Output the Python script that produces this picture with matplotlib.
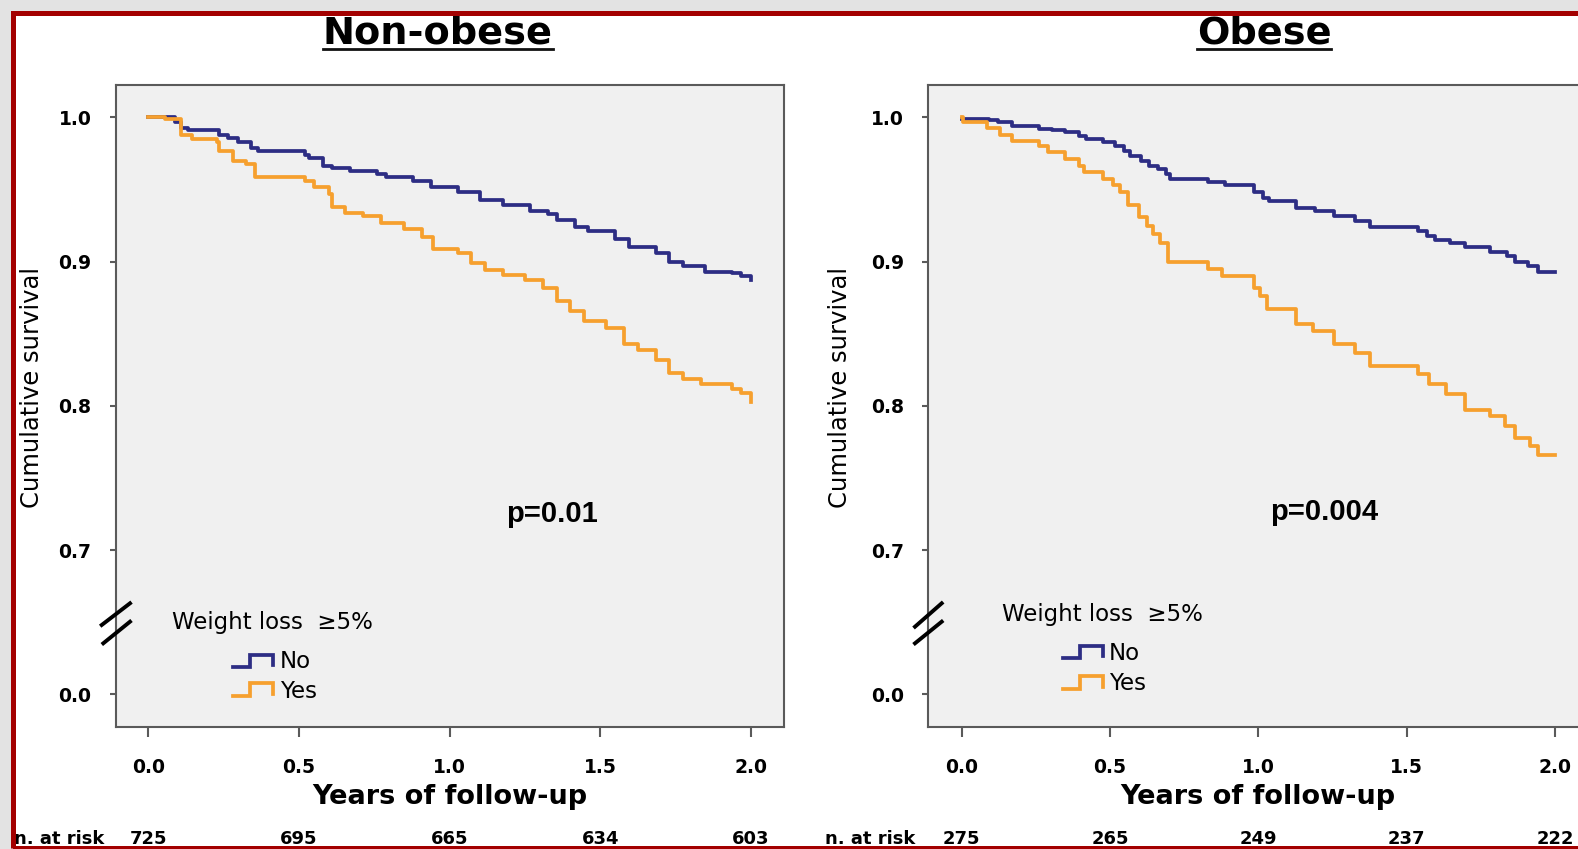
import matplotlib
matplotlib.use("Agg")
import matplotlib.pyplot as plt
from matplotlib.patches import Rectangle
from matplotlib.lines import Line2D
from matplotlib.transforms import blended_transform_factory

# Kaplan-Meier step points (years, cumulative survival)
nonobese_no_t = [0, 0.087, 0.109, 0.131, 0.236, 0.266, 0.296, 0.340, 0.363, 0.519, 0.534,
                 0.579, 0.609, 0.669, 0.758, 0.788, 0.878, 0.937, 1.027, 1.101, 1.176, 1.266,
                 1.325, 1.355, 1.415, 1.460, 1.549, 1.594, 1.684, 1.728, 1.773, 1.848, 1.937,
                 1.967, 2.0]
nonobese_no_s = [1.0, 0.997, 0.993, 0.991, 0.988, 0.986, 0.983, 0.979, 0.977, 0.974, 0.972,
                 0.966, 0.965, 0.963, 0.961, 0.959, 0.956, 0.952, 0.948, 0.943, 0.939, 0.935,
                 0.933, 0.929, 0.924, 0.921, 0.916, 0.910, 0.906, 0.900, 0.897, 0.893, 0.892,
                 0.890, 0.887]
nonobese_yes_t = [0, 0.057, 0.109, 0.146, 0.228, 0.236, 0.281, 0.325, 0.355, 0.519, 0.549,
                  0.601, 0.609, 0.654, 0.713, 0.773, 0.848, 0.907, 0.945, 1.027, 1.072, 1.116,
                  1.176, 1.251, 1.310, 1.355, 1.400, 1.445, 1.519, 1.579, 1.624, 1.684, 1.728,
                  1.773, 1.833, 1.937, 1.967, 2.0]
nonobese_yes_s = [1.0, 0.999, 0.988, 0.985, 0.983, 0.977, 0.970, 0.968, 0.959, 0.956, 0.952,
                  0.947, 0.938, 0.934, 0.932, 0.927, 0.923, 0.917, 0.909, 0.906, 0.899, 0.894,
                  0.891, 0.887, 0.882, 0.873, 0.866, 0.859, 0.854, 0.843, 0.839, 0.832, 0.823,
                  0.819, 0.815, 0.812, 0.809, 0.803]
obese_no_t = [0, 0.092, 0.121, 0.170, 0.262, 0.305, 0.348, 0.397, 0.418, 0.475, 0.518, 0.546,
              0.567, 0.603, 0.631, 0.660, 0.688, 0.702, 0.830, 0.887, 0.986, 1.014, 1.035,
              1.128, 1.191, 1.255, 1.326, 1.376, 1.539, 1.567, 1.596, 1.645, 1.695, 1.780,
              1.837, 1.865, 1.908, 1.943, 2.0]
obese_no_s = [0.999, 0.998, 0.997, 0.994, 0.992, 0.991, 0.990, 0.987, 0.985, 0.983, 0.980,
              0.977, 0.973, 0.970, 0.966, 0.964, 0.961, 0.957, 0.955, 0.953, 0.948, 0.944,
              0.942, 0.937, 0.935, 0.932, 0.928, 0.924, 0.921, 0.918, 0.915, 0.913, 0.910,
              0.907, 0.904, 0.900, 0.897, 0.893, 0.893]
obese_yes_t = [0, 0.004, 0.085, 0.128, 0.170, 0.262, 0.291, 0.348, 0.397, 0.411, 0.475, 0.511,
               0.532, 0.560, 0.596, 0.624, 0.645, 0.667, 0.695, 0.830, 0.879, 0.986, 1.007,
               1.028, 1.128, 1.184, 1.255, 1.326, 1.376, 1.539, 1.574, 1.631, 1.695, 1.780,
               1.830, 1.865, 1.915, 1.943, 2.0]
obese_yes_s = [1.0, 0.997, 0.993, 0.988, 0.984, 0.980, 0.976, 0.971, 0.966, 0.962, 0.957,
               0.953, 0.948, 0.939, 0.931, 0.925, 0.919, 0.913, 0.900, 0.895, 0.890, 0.882,
               0.876, 0.867, 0.857, 0.852, 0.843, 0.837, 0.828, 0.822, 0.815, 0.808, 0.797,
               0.793, 0.786, 0.778, 0.772, 0.766, 0.766]

x_ticks = [0.0, 0.5, 1.0, 1.5, 2.0]
x_ticklabels = ["0.0", "0.5", "1.0", "1.5", "2.0"]
# broken y axis: 0.0 is drawn where 0.6 would be
y_ticks = [0.6, 0.7, 0.8, 0.9, 1.0]
y_ticklabels = ["0.0", "0.7", "0.8", "0.9", "1.0"]

nonobese_at_risk = [725, 695, 665, 634, 603]
obese_at_risk = [275, 265, 249, 237, 222]

BLUE = "#2d2d84"
ORANGE = "#f6a02e"
SPINE = "#5a5a5a"

W, H = 1578, 849


def fx(x):
    return x / W


def fy(y):
    return 1 - y / H


fig = plt.figure(figsize=(W / 100, H / 100), dpi=100, facecolor="#e3e3e3")

# white card with red frame
fig.add_artist(Rectangle((fx(12.5), fy(847.5)), fx(1620) - fx(12.5), (847.5 - 12.5) / H,
                         transform=fig.transFigure, facecolor="white", edgecolor="none",
                         zorder=-5))
fig.add_artist(Rectangle((fx(12.5), fy(847.5)), fx(1620) - fx(12.5), (847.5 - 12.5) / H,
                         transform=fig.transFigure, facecolor="none", edgecolor="#a30000",
                         linewidth=3.6, zorder=20))

panels = [
    dict(title="Non-obese", left=115.7, right=784.0, zero=148.3, ppy=301.4, title_x=438,
         p="p=0.01", p_xy=(552, 522),
         no=(nonobese_no_t, nonobese_no_s), yes=(nonobese_yes_t, nonobese_yes_s),
         risk=nonobese_at_risk, risk_label_x=14, ylabel_x=32,
         leg=dict(title=(172, 623), no_icon=(233, 273, 655, 667), no_txt=(280, 662),
                  yes_icon=(233, 273, 683, 696), yes_txt=(280, 692)),
         brk=[((101.7, 625), (130, 603.3)), ((103.3, 643.3), (130, 621.7))]),
    dict(title="Obese", left=928.3, right=1587.5, zero=961.7, ppy=296.7, title_x=1264,
         p="p=0.004", p_xy=(1324, 520),
         no=(obese_no_t, obese_no_s), yes=(obese_yes_t, obese_yes_s),
         risk=obese_at_risk, risk_label_x=825, ylabel_x=840,
         leg=dict(title=(1002, 615), no_icon=(1063, 1103, 646, 658), no_txt=(1109, 653),
                  yes_icon=(1063, 1103, 676, 689), yes_txt=(1109, 683)),
         brk=[((915, 626.7), (941.7, 603.3)), ((915, 643.3), (941.7, 621.7))]),
]

top_px, bot_px = 85.0, 727.0
y_lo, y_hi = 0.5774, 1.0225

for pn in panels:
    ax = fig.add_axes([fx(pn["left"]), fy(bot_px), (pn["right"] - pn["left"]) / W,
                       (bot_px - top_px) / H])
    ax.set_facecolor("#f0f0f0")
    ax.set_xlim((pn["left"] - pn["zero"]) / pn["ppy"], (pn["right"] - pn["zero"]) / pn["ppy"])
    ax.set_ylim(y_lo, y_hi)
    for sp in ax.spines.values():
        sp.set_color(SPINE)
        sp.set_linewidth(1.5)

    ax.step(*pn["no"], where="post", color=BLUE, linewidth=2.7, zorder=3)
    ax.step(*pn["yes"], where="post", color=ORANGE, linewidth=2.7, zorder=3)

    ax.set_xticks(x_ticks)
    ax.set_xticklabels(x_ticklabels, fontsize=13.5, fontweight="bold")
    ax.set_yticks(y_ticks)
    ax.set_yticklabels(y_ticklabels, fontsize=13.5, fontweight="bold")
    ax.tick_params(axis="x", length=7.5, width=1.5, color=SPINE, pad=15)
    ax.tick_params(axis="y", length=4.5, width=1.5, color=SPINE, pad=13)

    ax.set_xlabel("Years of follow-up", fontsize=19.5, fontweight="bold")
    ax.xaxis.set_label_coords(0.5, (bot_px - 784) / (bot_px - top_px))

    fig.text(fx(pn["ylabel_x"]), fy(387), "Cumulative survival", rotation=90,
             ha="center", va="center", fontsize=17.5)

    # title with underline
    t = fig.text(fx(pn["title_x"]), fy(43), pn["title"], ha="center", va="baseline",
                 fontsize=27.5, fontweight="bold")
    fig.canvas.draw()
    bb = t.get_window_extent(fig.canvas.get_renderer())
    fig.add_artist(Line2D([bb.x0 / W, bb.x1 / W], [fy(49), fy(49)], transform=fig.transFigure,
                          color="#111111", linewidth=2.0))

    fig.text(fx(pn["p_xy"][0]), fy(pn["p_xy"][1]), pn["p"], ha="center", va="baseline",
             fontsize=21, fontweight="bold", family="Liberation Sans")

    # legend
    lg = pn["leg"]
    fig.text(fx(lg["title"][0]), fy(lg["title"][1]), "Weight loss  \u22655%",
             ha="left", va="center", fontsize=16.5)
    for key, col, label in [("no", BLUE, "No"), ("yes", ORANGE, "Yes")]:
        x0, x1, ytop, ybot = lg[key + "_icon"]
        xm = x0 + (x1 - x0) * 0.42
        fig.add_artist(Line2D([fx(x0), fx(xm), fx(xm), fx(x1), fx(x1)],
                              [fy(ybot), fy(ybot), fy(ytop), fy(ytop), fy(ybot - 2)],
                              transform=fig.transFigure, color=col, linewidth=2.7,
                              solid_joinstyle="miter"))
        tx, ty = lg[key + "_txt"]
        fig.text(fx(tx), fy(ty), label, ha="left", va="center", fontsize=16.5)

    # axis break marks
    for (a, b) in pn["brk"]:
        fig.add_artist(Line2D([fx(a[0]), fx(b[0])], [fy(a[1]), fy(b[1])],
                              transform=fig.transFigure, color="black", linewidth=2.8,
                              zorder=5))

    # numbers at risk
    trans = blended_transform_factory(ax.transData, fig.transFigure)
    for xv, n in zip(x_ticks, pn["risk"]):
        ax.text(xv, fy(839), str(n), transform=trans, ha="center", va="center",
                fontsize=13, fontweight="bold", clip_on=False)
    fig.text(fx(pn["risk_label_x"]), fy(839), "n. at risk", ha="left", va="center",
             fontsize=13, fontweight="bold")

fig.savefig("out.png", dpi=100, facecolor=fig.get_facecolor())
